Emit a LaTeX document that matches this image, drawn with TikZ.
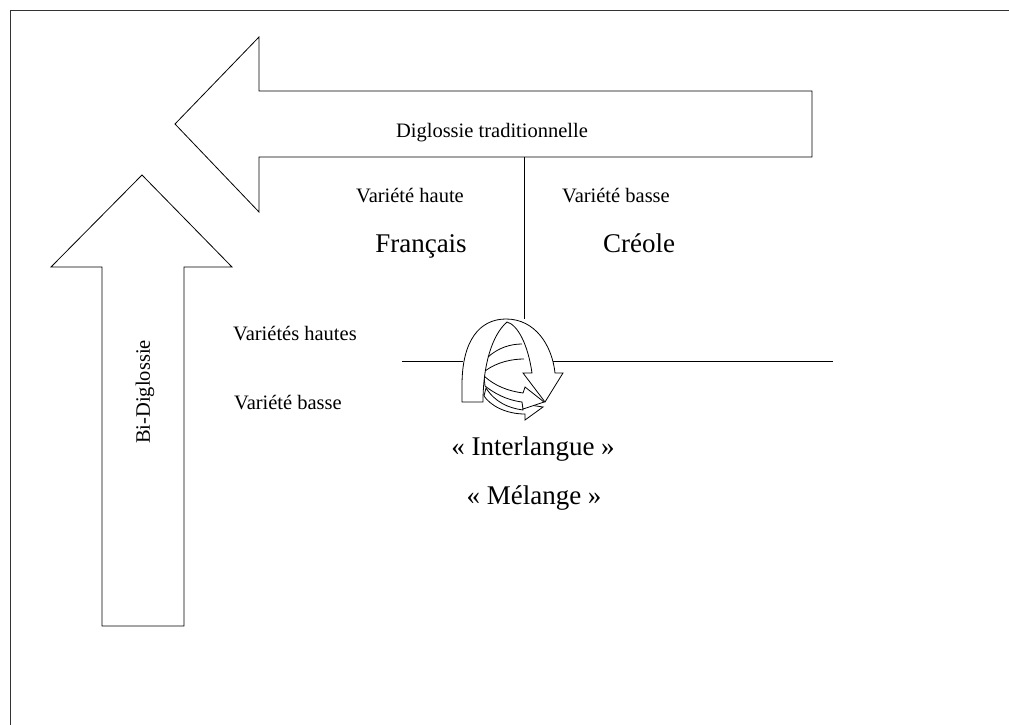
\documentclass[tikz,border=0pt]{standalone}
\usepackage{fontspec}
\setmainfont{Liberation Serif}
\usepackage{tikz}
\tikzset{
  blockarrow/.style={draw=black,fill=white,line width=0.8pt},
  petit/.style={font=\fontsize{20.5}{24}\selectfont,inner sep=0pt},
  grand/.style={font=\fontsize{27}{32}\selectfont,inner sep=0pt}
}
\begin{document}
\begin{tikzpicture}[x=1pt,y=-1pt]
\useasboundingbox (0,0) rectangle (1009,725);
\clip (0,0) rectangle (1009,725);
\draw[line width=1.6pt,draw=black!80] (10.5,10.5) rectangle (1020,740);
%
% fleche horizontale
\filldraw[blockarrow] (812,91) -- (259,91) -- (259,37) -- (175,124) -- (259,212)
   -- (259,157) -- (812,157) -- cycle;
\node[petit] (trad) at (492,133) {Diglossie traditionnelle};
%
% fleche verticale
\filldraw[blockarrow] (102,626) -- (102,267) -- (51,267) -- (142,175) -- (232,267)
   -- (184,267) -- (184,626) -- cycle;
\node[petit,rotate=90] (bidi) at (145,392) {Bi-Diglossie};
%
% axes
\coordinate (haut) at (524,157);
\coordinate (sommet) at (524,319);
\draw[line width=0.8pt] (haut) -- (sommet);
\draw[line width=0.8pt] (402,361) -- (463,361);
\draw[line width=0.8pt] (553,361) -- (833,361);
%
\node[petit,anchor=base] (vh) at (410,202) {Variété haute};
\node[petit,anchor=base] (vb) at (616,202) {Variété basse};
\node[grand,anchor=base] (fr) at (421,252) {Français};
\node[grand,anchor=base] (cr) at (639,252) {Créole};
\node[petit] (vhs) at (295,334) {Variétés hautes};
\node[petit] (vbs) at (288,403) {Variété basse};
\node[grand] (inter) at (533,449) {« Interlangue »};
\node[grand] (mel) at (534,498) {« Mélange »};
%
% fleches du melange
\filldraw[blockarrow] (486,388) .. controls (495,402) and (508,408) .. (523,410)
   -- (523,404) -- (543,407) -- (525,420) -- (525,414)
   .. controls (505,414) and (490,405) .. (484,396) -- cycle;
\filldraw[blockarrow] (484,376) .. controls (495,386) and (508,391) .. (523,393)
   -- (525,387) -- (544,402) -- (523,409) -- (522,402)
   .. controls (506,400) and (494,393) .. (485,386) -- cycle;
\filldraw[blockarrow] (462,402) -- (462,385) .. controls (462,340) and (480,319) .. (506,319)
   .. controls (535,319) and (552,345) .. (555,373) -- (563,373) -- (545,402)
   -- (523,373) -- (532,373) .. controls (528,345) and (518,325) .. (507,322)
   .. controls (492,335) and (483,365) .. (483,402) -- cycle;
\draw[line width=0.8pt] (488,357) .. controls (498,348) and (510,344) .. (522,344);
\draw[line width=0.8pt] (485,371) .. controls (497,362) and (512,359) .. (524,359);
%
\end{tikzpicture}
\end{document}
